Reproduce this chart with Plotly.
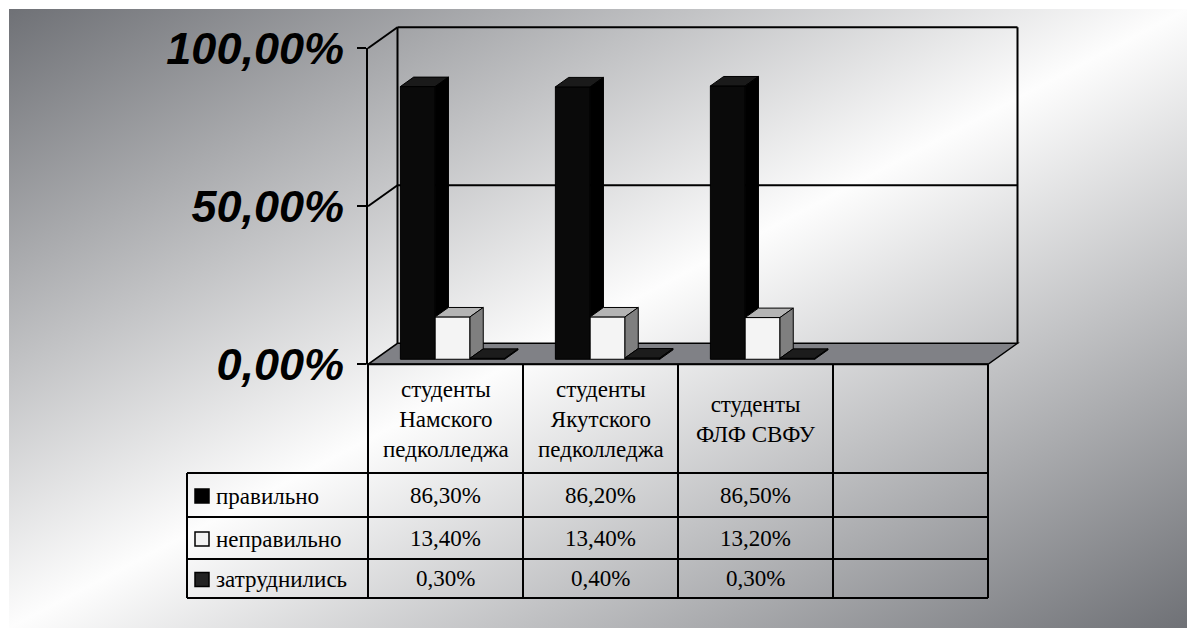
import base64
import plotly.graph_objects as go

# ---------------- data ----------------
categories = [
    "студенты<br>Намского<br>педколледжа",
    "студенты<br>Якутского<br>педколледжа",
    "студенты<br>ФЛФ СВФУ",
]
series_names = ["правильно", "неправильно", "затруднились"]
pravilno = [0.863, 0.862, 0.865]
nepravilno = [0.134, 0.134, 0.132]
zatrudnilis = [0.003, 0.004, 0.003]
y_ticks = [0.0, 0.5, 1.0]

series_values = [pravilno, nepravilno, zatrudnilis]

# ---------------- styling ----------------
front_colors = ["#0a0a0a", "#f4f4f4", "#262626"]
top_colors = ["#1a1a1a", "#b4b4b4", "#1c1c1c"]
side_colors = ["#000000", "#7f7f7f", "#111111"]
key_colors = ["#000000", "#f2f2f2", "#222222"]
floor_color = "#808186"

W, H = 1187, 628


def px(x):
    return x / W


def py(y):
    return 1 - y / H


def pct(v):
    return f"{v * 100:.2f}%".replace(".", ",")


# geometry of the pseudo-3D box (pixels)
FX0 = 368.0          # front-left edge of the plot box
CW = 155.0           # width of one category column
NCOL = 4             # three categories + empty column
FY0 = 364.3          # front floor edge (value 0)
S = 316.0            # pixels per 100 %
DX, DY = 29.5, 21.0  # full depth of the box
BAR_D0, BAR_D = 0.24, 0.45   # bar front plane and bar depth (fraction of box depth)

# bar plane axis
bx0 = FX0 + BAR_D0 * DX
by0 = FY0 - BAR_D0 * DY
y_lo, y_hi = -0.1, 1.1

bar_w = 0.2245
offsets = [-1.5 * bar_w + k * bar_w for k in range(3)]
bdx = BAR_D * DX / CW
bdy = BAR_D * DY / S

fig = go.Figure()

xs = list(range(len(categories)))
for k, (name, vals) in enumerate(zip(series_names, series_values)):
    fig.add_trace(go.Bar(
        x=xs, y=vals, name=name,
        width=[bar_w] * len(xs), offset=[offsets[k]] * len(xs),
        marker=dict(color=front_colors[k], line=dict(color="black", width=1)),
        hoverinfo="skip", showlegend=False,
    ))

# front-plane axis carrying the value labels
fig.add_trace(go.Scatter(x=[], y=[], xaxis="x2", yaxis="y2",
                         showlegend=False, hoverinfo="skip"))

shapes = []

# floor
fx1 = FX0 + NCOL * CW
shapes.append(dict(
    type="path", xref="paper", yref="paper", layer="below",
    path=(f"M {px(FX0)},{py(FY0)} L {px(fx1)},{py(FY0)} "
          f"L {px(fx1 + DX)},{py(FY0 - DY)} L {px(FX0 + DX)},{py(FY0 - DY)} Z"),
    fillcolor=floor_color, line=dict(color="black", width=1.5),
))

# walls: back verticals, gridlines on back and side walls
line_k = dict(color="black", width=2)
for xv in (FX0 + DX, fx1 + DX):
    shapes.append(dict(type="line", xref="paper", yref="paper", layer="below",
                       x0=px(xv), x1=px(xv), y0=py(FY0 - DY), y1=py(FY0 - DY - S),
                       line=line_k))
for v in y_ticks[1:]:
    yb = FY0 - DY - S * v
    yf = FY0 - S * v
    shapes.append(dict(type="line", xref="paper", yref="paper", layer="below",
                       x0=px(FX0 + DX), x1=px(fx1 + DX), y0=py(yb), y1=py(yb),
                       line=line_k))
    shapes.append(dict(type="line", xref="paper", yref="paper", layer="below",
                       x0=px(FX0), x1=px(FX0 + DX), y0=py(yf), y1=py(yb),
                       line=line_k))

# bar tops and side faces
for i in xs:
    for k in range(3):
        v = series_values[k][i]
        left = i + offsets[k]
        right = left + bar_w
        shapes.append(dict(
            type="path", xref="x", yref="y", layer="above",
            path=(f"M {left},{v} L {right},{v} L {right + bdx},{v + bdy} "
                  f"L {left + bdx},{v + bdy} Z"),
            fillcolor=top_colors[k], line=dict(color="black", width=1),
        ))
        base = min(series_values[k + 1][i], v) if k < 2 else 0.0
        shapes.append(dict(
            type="path", xref="x", yref="y", layer="above",
            path=(f"M {right},{base} L {right},{v} L {right + bdx},{v + bdy} "
                  f"L {right + bdx},{base + bdy} Z"),
            fillcolor=side_colors[k], line=dict(color="black", width=1),
        ))

# data table
LX0 = 187.0
row_lines = [473.0, 517.0, 559.0, 598.0]
for c in range(NCOL + 1):
    xv = FX0 + c * CW
    shapes.append(dict(type="line", xref="paper", yref="paper", layer="below",
                       x0=px(xv), x1=px(xv), y0=py(FY0), y1=py(row_lines[-1]),
                       line=line_k))
shapes.append(dict(type="line", xref="paper", yref="paper", layer="below",
                   x0=px(LX0), x1=px(LX0), y0=py(row_lines[0]), y1=py(row_lines[-1]),
                   line=line_k))
for yv in row_lines:
    shapes.append(dict(type="line", xref="paper", yref="paper", layer="below",
                       x0=px(LX0), x1=px(fx1), y0=py(yv), y1=py(yv),
                       line=line_k))
shapes.append(dict(type="line", xref="paper", yref="paper", layer="below",
                   x0=px(FX0), x1=px(fx1), y0=py(FY0), y1=py(FY0), line=line_k))

annotations = []
tfont = dict(family="Liberation Serif, Times New Roman, serif", size=23, color="black")
for i, cat in enumerate(categories):
    annotations.append(dict(x=i, y=py(419), xref="x2", yref="paper", text=cat,
                            showarrow=False, font=tfont, align="center",
                            xanchor="center", yanchor="middle"))
for r, (name, vals) in enumerate(zip(series_names, series_values)):
    yc = (row_lines[r] + row_lines[r + 1]) / 2
    shapes.append(dict(type="rect", xref="paper", yref="paper", layer="above",
                       x0=px(195), x1=px(209), y0=py(yc - 6), y1=py(yc + 8),
                       fillcolor=key_colors[r], line=dict(color="black", width=1.5)))
    annotations.append(dict(x=px(214), y=py(yc + 1), xref="paper", yref="paper",
                            text=name, showarrow=False, font=tfont,
                            xanchor="left", yanchor="middle"))
    for i, v in enumerate(vals):
        annotations.append(dict(x=i, y=py(yc), xref="x2", yref="paper",
                                text=pct(v), showarrow=False, font=tfont,
                                xanchor="center", yanchor="middle"))

# diagonal grey/white backdrop
bw_, bh_ = W - 9, H - 9
svg = (f'<svg xmlns="http://www.w3.org/2000/svg" width="{bw_}" height="{bh_}" '
       f'viewBox="0 0 {bw_} {bh_}" preserveAspectRatio="none">'
       '<defs><linearGradient id="g" x1="0" y1="0" x2="1" y2="1">'
       '<stop offset="0" stop-color="#6f7176"/>'
       '<stop offset="0.5" stop-color="#fdfdfd"/>'
       '<stop offset="1" stop-color="#6f7176"/>'
       '</linearGradient></defs>'
       f'<rect width="{bw_}" height="{bh_}" fill="url(#g)"/></svg>')
src = "data:image/svg+xml;base64," + base64.b64encode(svg.encode()).decode()

fig.update_layout(
    width=W, height=H,
    margin=dict(l=0, r=0, t=0, b=0, pad=0, autoexpand=False),
    paper_bgcolor="white", plot_bgcolor="rgba(0,0,0,0)",
    barmode="overlay", hovermode=False, showlegend=False,
    xaxis=dict(domain=[px(bx0), px(bx0 + NCOL * CW)], range=[-0.5, NCOL - 0.5],
               visible=False, anchor="y", automargin=False),
    yaxis=dict(domain=[py(by0 - S * y_lo), py(by0 - S * y_hi)], range=[y_lo, y_hi],
               visible=False, anchor="x", automargin=False),
    xaxis2=dict(domain=[px(FX0), px(fx1)], range=[-0.5, NCOL - 0.5],
                visible=False, anchor="y2", automargin=False),
    yaxis2=dict(domain=[py(FY0), py(FY0 - S)], range=[0, 1], anchor="x2",
                automargin=False,
                showline=True, linecolor="black", linewidth=2,
                ticks="outside", ticklen=9, tickwidth=2, tickcolor="black",
                tickvals=y_ticks, ticktext=[pct(v) for v in y_ticks],
                ticklabelstandoff=4, showgrid=False, zeroline=False,
                tickfont=dict(family="Liberation Sans, Arial, sans-serif", size=45,
                              color="black", weight="bold", style="italic")),
    shapes=shapes,
    annotations=annotations,
    images=[dict(source=src, xref="paper", yref="paper", x=px(9), y=py(9),
                 sizex=bw_ / W, sizey=bh_ / H, xanchor="left", yanchor="top",
                 sizing="stretch", layer="below")],
)

fig.write_html("out.html")
